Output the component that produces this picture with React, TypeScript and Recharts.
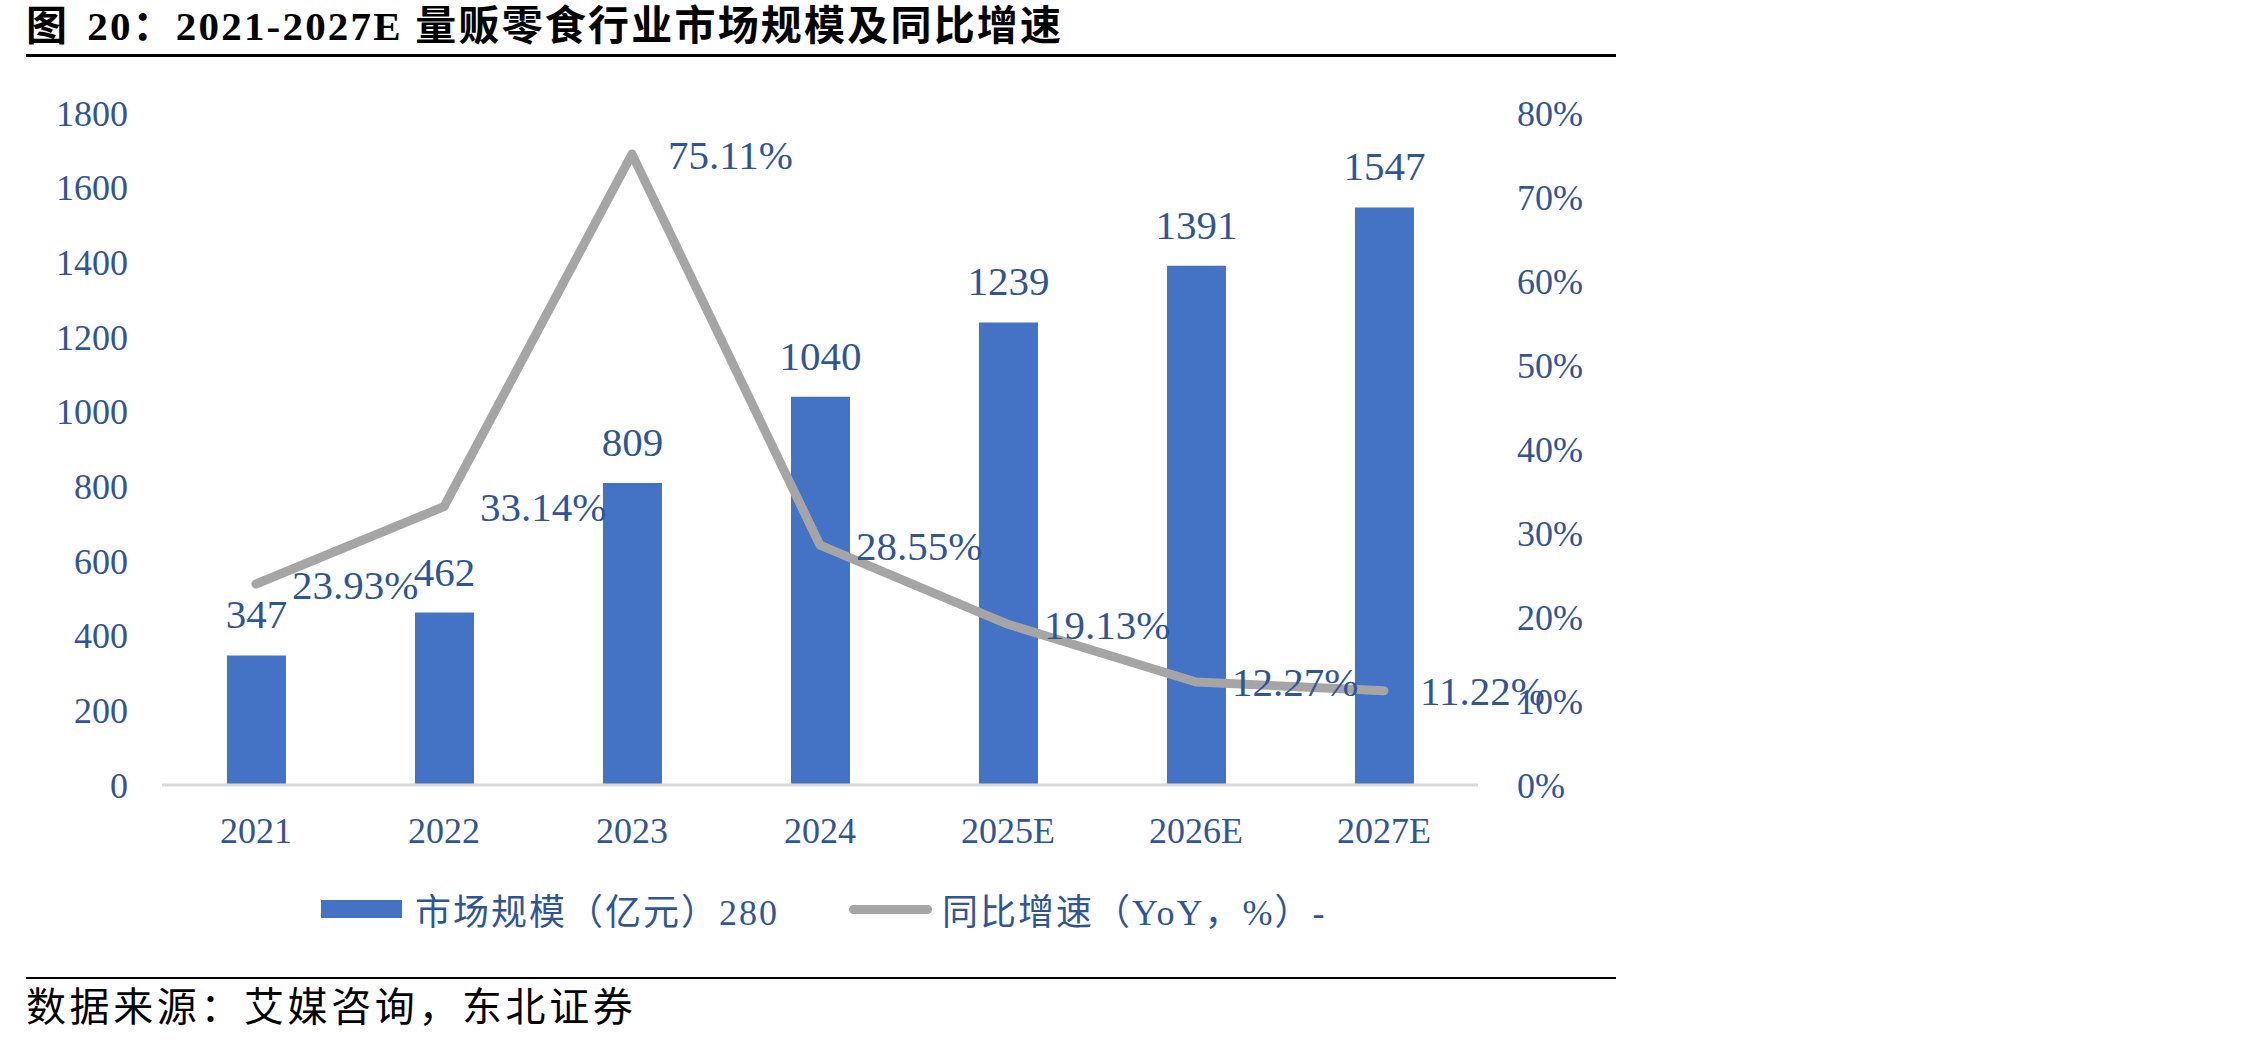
import React from 'react'
import { ComposedChart, Bar, Line, XAxis, YAxis, LabelList } from 'recharts'

const years = ['2021', '2022', '2023', '2024', '2025E', '2026E', '2027E']
const marketSize = [347, 462, 809, 1040, 1239, 1391, 1547]
const yoyGrowth = [23.93, 33.14, 75.11, 28.55, 19.13, 12.27, 11.22]
const sizeTicks = [0, 200, 400, 600, 800, 1000, 1200, 1400, 1600, 1800]
const growthTicks = [0, 10, 20, 30, 40, 50, 60, 70, 80]

const sizeName = '市场规模（亿元）280'
const growthName = '同比增速（YoY，%）-'
const titleLead = '图'
const titleRest = '20：2021-2027E 量贩零食行业市场规模及同比增速'
const source = '数据来源：艾媒咨询，东北证券'

const BLUE = '#4472C4'
const GREY = '#A5A5A5'
const TEXT = '#2F5597'
const SERIF = '"Liberation Serif", "Noto Sans CJK SC", serif'

const tickStyle = { fontSize: 36, fill: TEXT, fontFamily: SERIF }
const labelStyle = { fontSize: 41, fill: TEXT, fontFamily: SERIF }

const App = () => {
  const data = years.map((year, i) => ({
    year,
    size: marketSize[i],
    yoy: yoyGrowth[i],
  }))

  return (
    <div style={{ position: 'absolute', left: 0, top: 0, width: 2268, height: 1045, background: '#fff' }}>
      <div
        style={{
          position: 'absolute', left: 26, top: 1, fontSize: 41, fontWeight: 'bold',
          fontFamily: SERIF, letterSpacing: 2.2, whiteSpace: 'pre', color: '#000', lineHeight: '50px',
        }}
      >
        <span style={{ marginRight: 18 }}>{titleLead}</span>
        {titleRest}
      </div>
      <div style={{ position: 'absolute', left: 26, top: 54, width: 1590, height: 3, background: '#000' }} />

      <div style={{ position: 'absolute', left: 0, top: 0 }}>
        <ComposedChart
          width={2268}
          height={1045}
          data={data}
          margin={{ top: 113, right: 690, left: 62, bottom: 200 }}
          barCategoryGap={0}
        >
          <XAxis
            dataKey="year"
            tickLine={false}
            tickSize={0}
            tickMargin={32}
            height={60}
            axisLine={{ stroke: '#D9D9D9', strokeWidth: 3 }}
            tick={tickStyle}
          />
          <YAxis
            yAxisId="left"
            domain={[0, 1800]}
            ticks={sizeTicks}
            width={100}
            axisLine={false}
            tickLine={false}
            tickSize={0}
            tickMargin={34}
            tick={tickStyle}
          />
          <YAxis
            yAxisId="right"
            orientation="right"
            domain={[0, 80]}
            ticks={growthTicks}
            width={100}
            axisLine={false}
            tickLine={false}
            tickSize={0}
            tickMargin={39}
            tick={{ ...tickStyle, textAnchor: 'start' }}
            tickFormatter={(v: number) => `${v}%`}
          />
          <Bar yAxisId="left" dataKey="size" name={sizeName} fill={BLUE} barSize={59} isAnimationActive={false}>
            <LabelList dataKey="size" position="top" offset={27} style={labelStyle} />
          </Bar>
          <Line
            yAxisId="right"
            type="linear"
            dataKey="yoy"
            name={growthName}
            stroke={GREY}
            strokeWidth={9}
            strokeLinecap="round"
            strokeLinejoin="round"
            dot={false}
            activeDot={false}
            isAnimationActive={false}
          >
            <LabelList
              dataKey="yoy"
              position="right"
              offset={36}
              style={labelStyle}
              formatter={(v: number) => `${v.toFixed(2)}%`}
            />
          </Line>
        </ComposedChart>
      </div>

      {/* legend */}
      <div
        style={{
          position: 'absolute', left: 321, top: 885, height: 48, display: 'flex', alignItems: 'center',
          fontFamily: SERIF, fontSize: 36, color: TEXT, whiteSpace: 'pre', letterSpacing: 2,
        }}
      >
        <span style={{ display: 'inline-block', width: 81, height: 18, background: BLUE, marginRight: 13 }} />
        <span>{sizeName}</span>
        <span
          style={{
            display: 'inline-block', width: 83, height: 9, background: GREY, borderRadius: 5,
            marginLeft: 70, marginRight: 10,
          }}
        />
        <span>{growthName}</span>
      </div>

      <div style={{ position: 'absolute', left: 26, top: 977, width: 1590, height: 2, background: '#000' }} />
      <div
        style={{
          position: 'absolute', left: 26, top: 984, fontSize: 40, fontFamily: SERIF,
          letterSpacing: 3.6, whiteSpace: 'pre', color: '#000', lineHeight: '48px',
        }}
      >
        {source}
      </div>
    </div>
  )
}

export default App
